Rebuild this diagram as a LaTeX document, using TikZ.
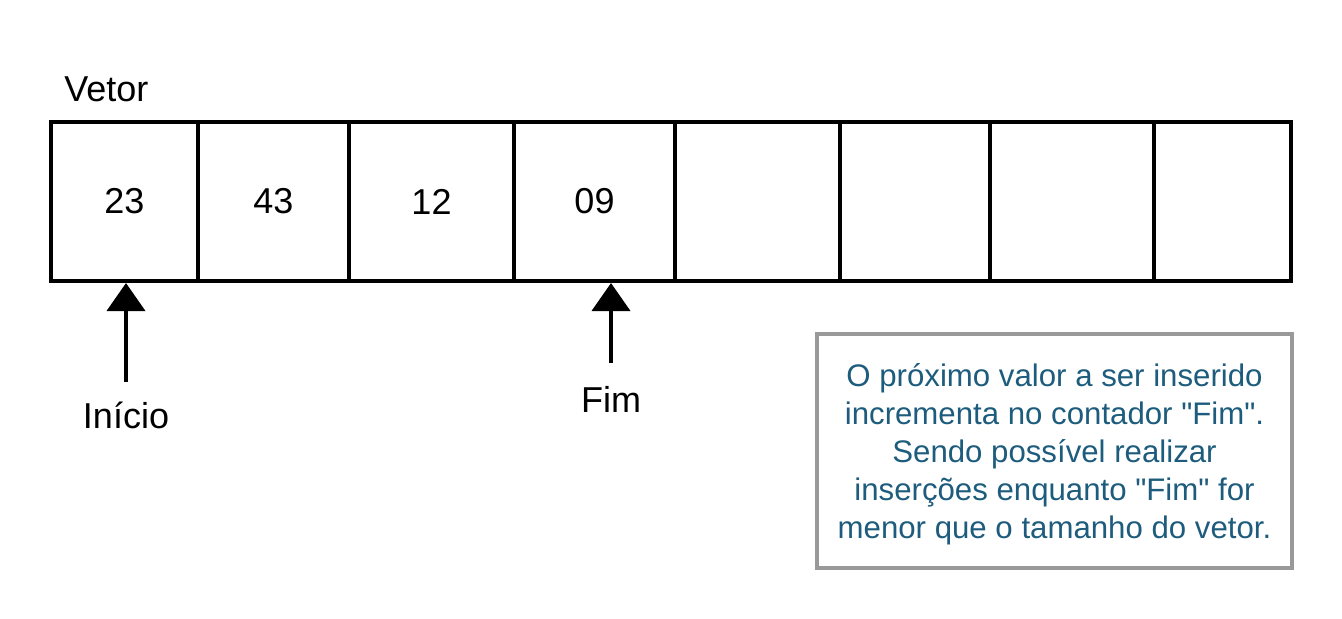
\documentclass[tikz,border=0pt]{standalone}
\usepackage{fontspec}
\setmainfont{Liberation Sans}
\usepackage{tikz}
\usetikzlibrary{arrows.meta, positioning}
\definecolor{textoazul}{RGB}{29,92,124}
\definecolor{bordacinza}{RGB}{153,153,153}

\begin{document}
\begin{tikzpicture}[x=0.5pt, y=-0.5pt,
  celula/.style={draw, line width=2pt, minimum height=79.5pt, inner sep=0pt, font=\fontsize{18}{20}\selectfont},
  rotulo/.style={inner sep=0pt, font=\fontsize{18}{20}\selectfont},
  seta/.style={line width=2pt, -{Triangle[width=19pt, length=14pt]}},
  nota/.style={draw=bordacinza, line width=2pt, text=textoazul, align=center,
    minimum width=237.5pt, minimum height=117pt, inner sep=0pt, font=\fontsize{15.6}{19}\selectfont}]
  \useasboundingbox (0,0) rectangle (1342,618);

  % Vetor label
  \node[rotulo, anchor=base west] (titulo) at (64,101) {Vetor};

  % Cells of the vector
  \node[celula, minimum width=73.5pt] (c1) at (124.5,201.5) {23};
  \node[celula, minimum width=75.5pt] (c2) at (273.5,201.5) {43};
  \node[celula, minimum width=82.5pt] (c3) at (431.5,201.5) {12};
  \node[celula, minimum width=80.5pt] (c4) at (594.5,201.5) {09};
  \node[celula, minimum width=82.5pt] (c5) at (757.5,201.5) {};
  \node[celula, minimum width=75pt] (c6) at (915,201.5) {};
  \node[celula, minimum width=82pt] (c7) at (1072,201.5) {};
  \node[celula, minimum width=68.5pt] (c8) at (1222.5,201.5) {};

  % Pointer Inicio
  \coordinate (baseIni) at (126,382);
  \draw[seta] (baseIni) -- (baseIni |- c1.south);
  \node[rotulo, anchor=base] (inicio) at (126,428) {Início};

  % Pointer Fim
  \coordinate (baseFim) at (611,363);
  \draw[seta] (baseFim) -- (baseFim |- c4.south);
  \node[rotulo, anchor=base] (fim) at (611,412) {Fim};

  % Note box
  \node[nota] (obs) at (1054.5,451) {};
  \node[text=textoazul, align=center, inner sep=0pt, font=\fontsize{15.6}{19}\selectfont] (obstexto) at (1054.5,454) {O próximo valor a ser inserido\\
    incrementa no contador \textquotedbl Fim\textquotedbl.\\
    Sendo possível realizar\\
    inserções enquanto \textquotedbl Fim\textquotedbl{} for\\
    menor que o tamanho do vetor.};
\end{tikzpicture}
\end{document}
